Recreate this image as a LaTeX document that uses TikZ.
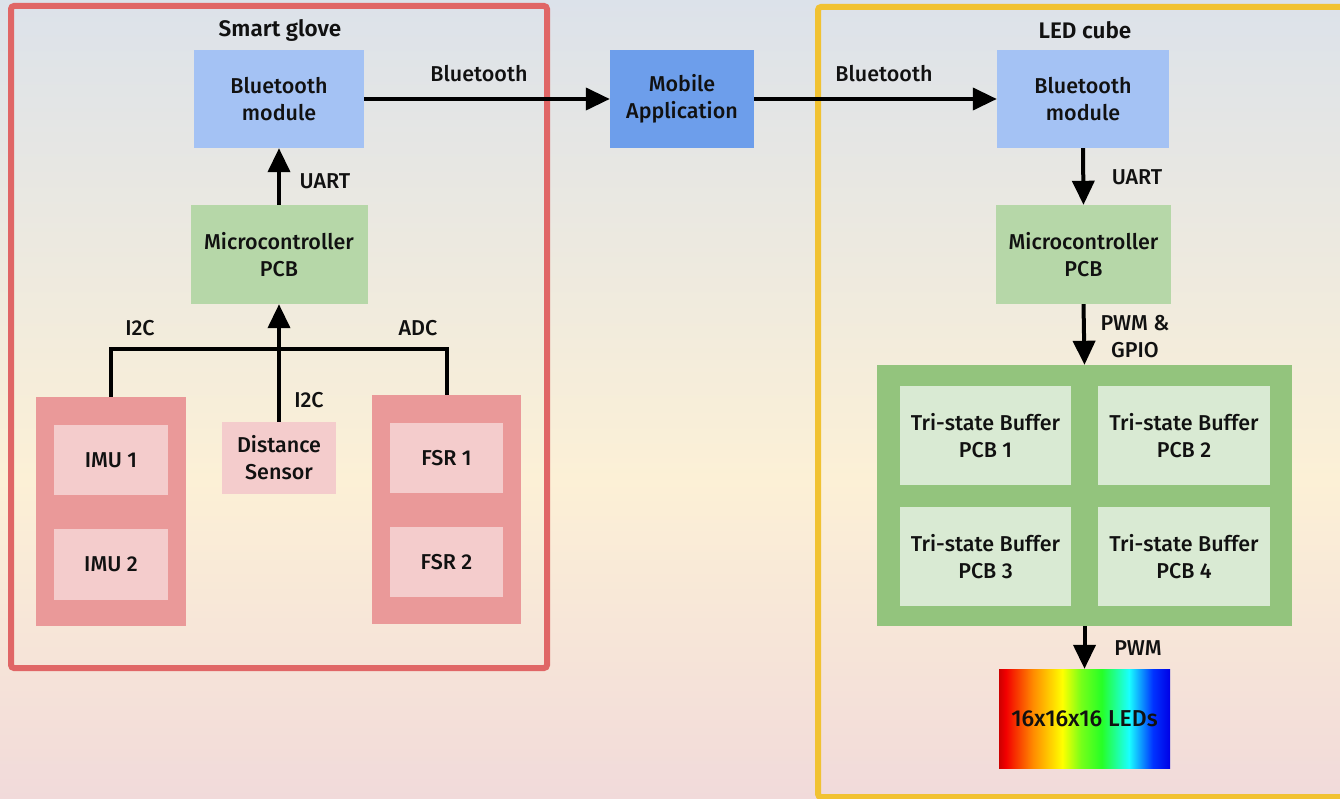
\documentclass[tikz,border=0pt]{standalone}
\usepackage{fontspec}
\setmainfont{Fira Sans}[UprightFont={* Medium}, BoldFont={* SemiBold}]
\usetikzlibrary{arrows.meta}

\definecolor{bgtop}{HTML}{DCE2EA}
\definecolor{bgmid}{HTML}{FCF0D6}
\definecolor{bgbot}{HTML}{F1DADA}
\definecolor{glovered}{HTML}{E06666}
\definecolor{cubeyellow}{HTML}{F1C232}
\definecolor{btblue}{HTML}{A4C2F4}
\definecolor{appblue}{HTML}{6D9EEB}
\definecolor{mcugreen}{HTML}{B6D7A8}
\definecolor{bufdark}{HTML}{93C47D}
\definecolor{buflight}{HTML}{D9EAD3}
\definecolor{sensdark}{HTML}{EA9999}
\definecolor{senslight}{HTML}{F4CCCC}
\definecolor{txt}{HTML}{111111}

% rainbow used for the LED array
\pgfdeclarehorizontalshading{ledrainbow}{100bp}{%
  color(0bp)=(red!80!black);
  color(25bp)=(red!80!black);
  color(27bp)=(red!95!black);
  color(35bp)=(orange!90!yellow);
  color(43.5bp)=(yellow);
  color(49bp)=(yellow!40!green!90!white);
  color(55bp)=(green!85!white);
  color(63bp)=(cyan!90!white);
  color(70bp)=(blue!80!cyan);
  color(75bp)=(blue!90!black);
  color(100bp)=(blue!90!black)}

\tikzset{
  blk/.style={draw=none, inner sep=0pt, align=center, text=txt,
              font=\fontsize{21.5}{27}\selectfont},
  lbl/.style={inner sep=0pt, align=left, text=txt,
              font=\fontsize{21.5}{27}\selectfont},
  ttl/.style={inner sep=0pt, text=txt, font=\fontsize{22.5}{26}\selectfont\bfseries},
  wire/.style={line width=4pt, draw=black},
  arr/.style={wire, -{Triangle[length=24pt,width=22pt]}},
}

\begin{document}
\begin{tikzpicture}[x=1pt, y=-1pt]
  \useasboundingbox (0,0) rectangle (1340,799);
  \clip (0,0) rectangle (1340,799);

  % background
  \shade[top color=bgtop, bottom color=bgmid] (0,-1) rectangle (1340,480);
  \shade[top color=bgmid, bottom color=bgbot] (0,479) rectangle (1340,800);

  % enclosures
  \draw[glovered, line width=6pt, rounded corners=3pt] (11,6) rectangle (547,668);
  \draw[cubeyellow, line width=6pt, rounded corners=3pt] (818,7) rectangle (1380,797);
  \node[ttl] (tglove) at (280,30) {Smart glove};
  \node[ttl] (tcube)  at (1085,30) {LED cube};

  % smart glove blocks
  \node[blk, fill=btblue, minimum width=170pt, minimum height=98pt] (gbt) at (279,99) {Bluetooth\\module};
  \node[blk, fill=mcugreen, minimum width=177pt, minimum height=99pt] (gmcu) at (279,254.5) {Microcontroller\\PCB};
  \node[blk, fill=sensdark, minimum width=150pt, minimum height=229pt] (imu) at (111,511.5) {};
  \node[blk, fill=senslight, minimum width=114pt, minimum height=70pt] (imu1) at (111,460) {IMU 1};
  \node[blk, fill=senslight, minimum width=114pt, minimum height=71pt] (imu2) at (111,564.5) {IMU 2};
  \node[blk, fill=senslight, minimum width=114pt, minimum height=72pt] (dist) at (279,458) {Distance\\Sensor};
  \node[blk, fill=sensdark, minimum width=149pt, minimum height=229pt] (fsr) at (446.5,509.5) {};
  \node[blk, fill=senslight, minimum width=113pt, minimum height=70pt] (fsr1) at (446.5,458) {FSR 1};
  \node[blk, fill=senslight, minimum width=113pt, minimum height=70pt] (fsr2) at (446.5,562) {FSR 2};

  % mobile application
  \node[blk, fill=appblue, minimum width=144pt, minimum height=98pt] (app) at (682,99) {Mobile\\Application};

  % LED cube blocks
  \node[blk, fill=btblue, minimum width=172pt, minimum height=98pt] (cbt) at (1083,99) {Bluetooth\\module};
  \node[blk, fill=mcugreen, minimum width=175pt, minimum height=99pt] (cmcu) at (1083.5,254.5) {Microcontroller\\PCB};
  \node[blk, fill=bufdark, minimum width=415pt, minimum height=261pt] (buf) at (1084.5,495.5) {};
  \node[blk, fill=buflight, minimum width=171pt, minimum height=99pt] (buf1) at (985.5,435.5) {Tri-state Buffer\\PCB 1};
  \node[blk, fill=buflight, minimum width=172pt, minimum height=99pt] (buf2) at (1184,435.5) {Tri-state Buffer\\PCB 2};
  \node[blk, fill=buflight, minimum width=171pt, minimum height=99pt] (buf3) at (985.5,556.5) {Tri-state Buffer\\PCB 3};
  \node[blk, fill=buflight, minimum width=172pt, minimum height=99pt] (buf4) at (1184,556.5) {Tri-state Buffer\\PCB 4};
  \node[blk, shading=ledrainbow, minimum width=171pt, minimum height=99pt,
        font=\fontsize{23}{27}\selectfont] (leds) at (1084.5,718.5) {16x16x16 LEDs};

  % connections
  \coordinate (busY) at (0,349);
  \draw[arr] (gbt.east) -- (app.west);
  \draw[arr] (app.east) -- (cbt.west);
  \draw[arr] (gmcu.north) -- (gbt.south);
  \draw[wire] (imu.north) -- (imu.north |- busY) -| (fsr.north);
  \draw[arr] (dist.north) -- (gmcu.south);
  \draw[arr] (cbt.south) -- (cmcu.north);
  \draw[arr] (cmcu.south) -- (buf.north);
  \draw[arr] (buf.south) -- (leds.north);

  % connection labels
  \node[lbl] (lbt1)  at (479,74)  {Bluetooth};
  \node[lbl] (lbt2)  at (884,74)  {Bluetooth};
  \node[lbl] (luart1) at (325,181) {UART};
  \node[lbl] (luart2) at (1137,177) {UART};
  \node[lbl] (li2c1) at (140,328) {I2C};
  \node[lbl] (ladc)  at (418,328) {ADC};
  \node[lbl] (li2c2) at (309,400) {I2C};
  \node[lbl, align=center] (lpwmg) at (1135,337) {PWM \&\\GPIO};
  \node[lbl] (lpwm)  at (1138,648) {PWM};
\end{tikzpicture}
\end{document}
